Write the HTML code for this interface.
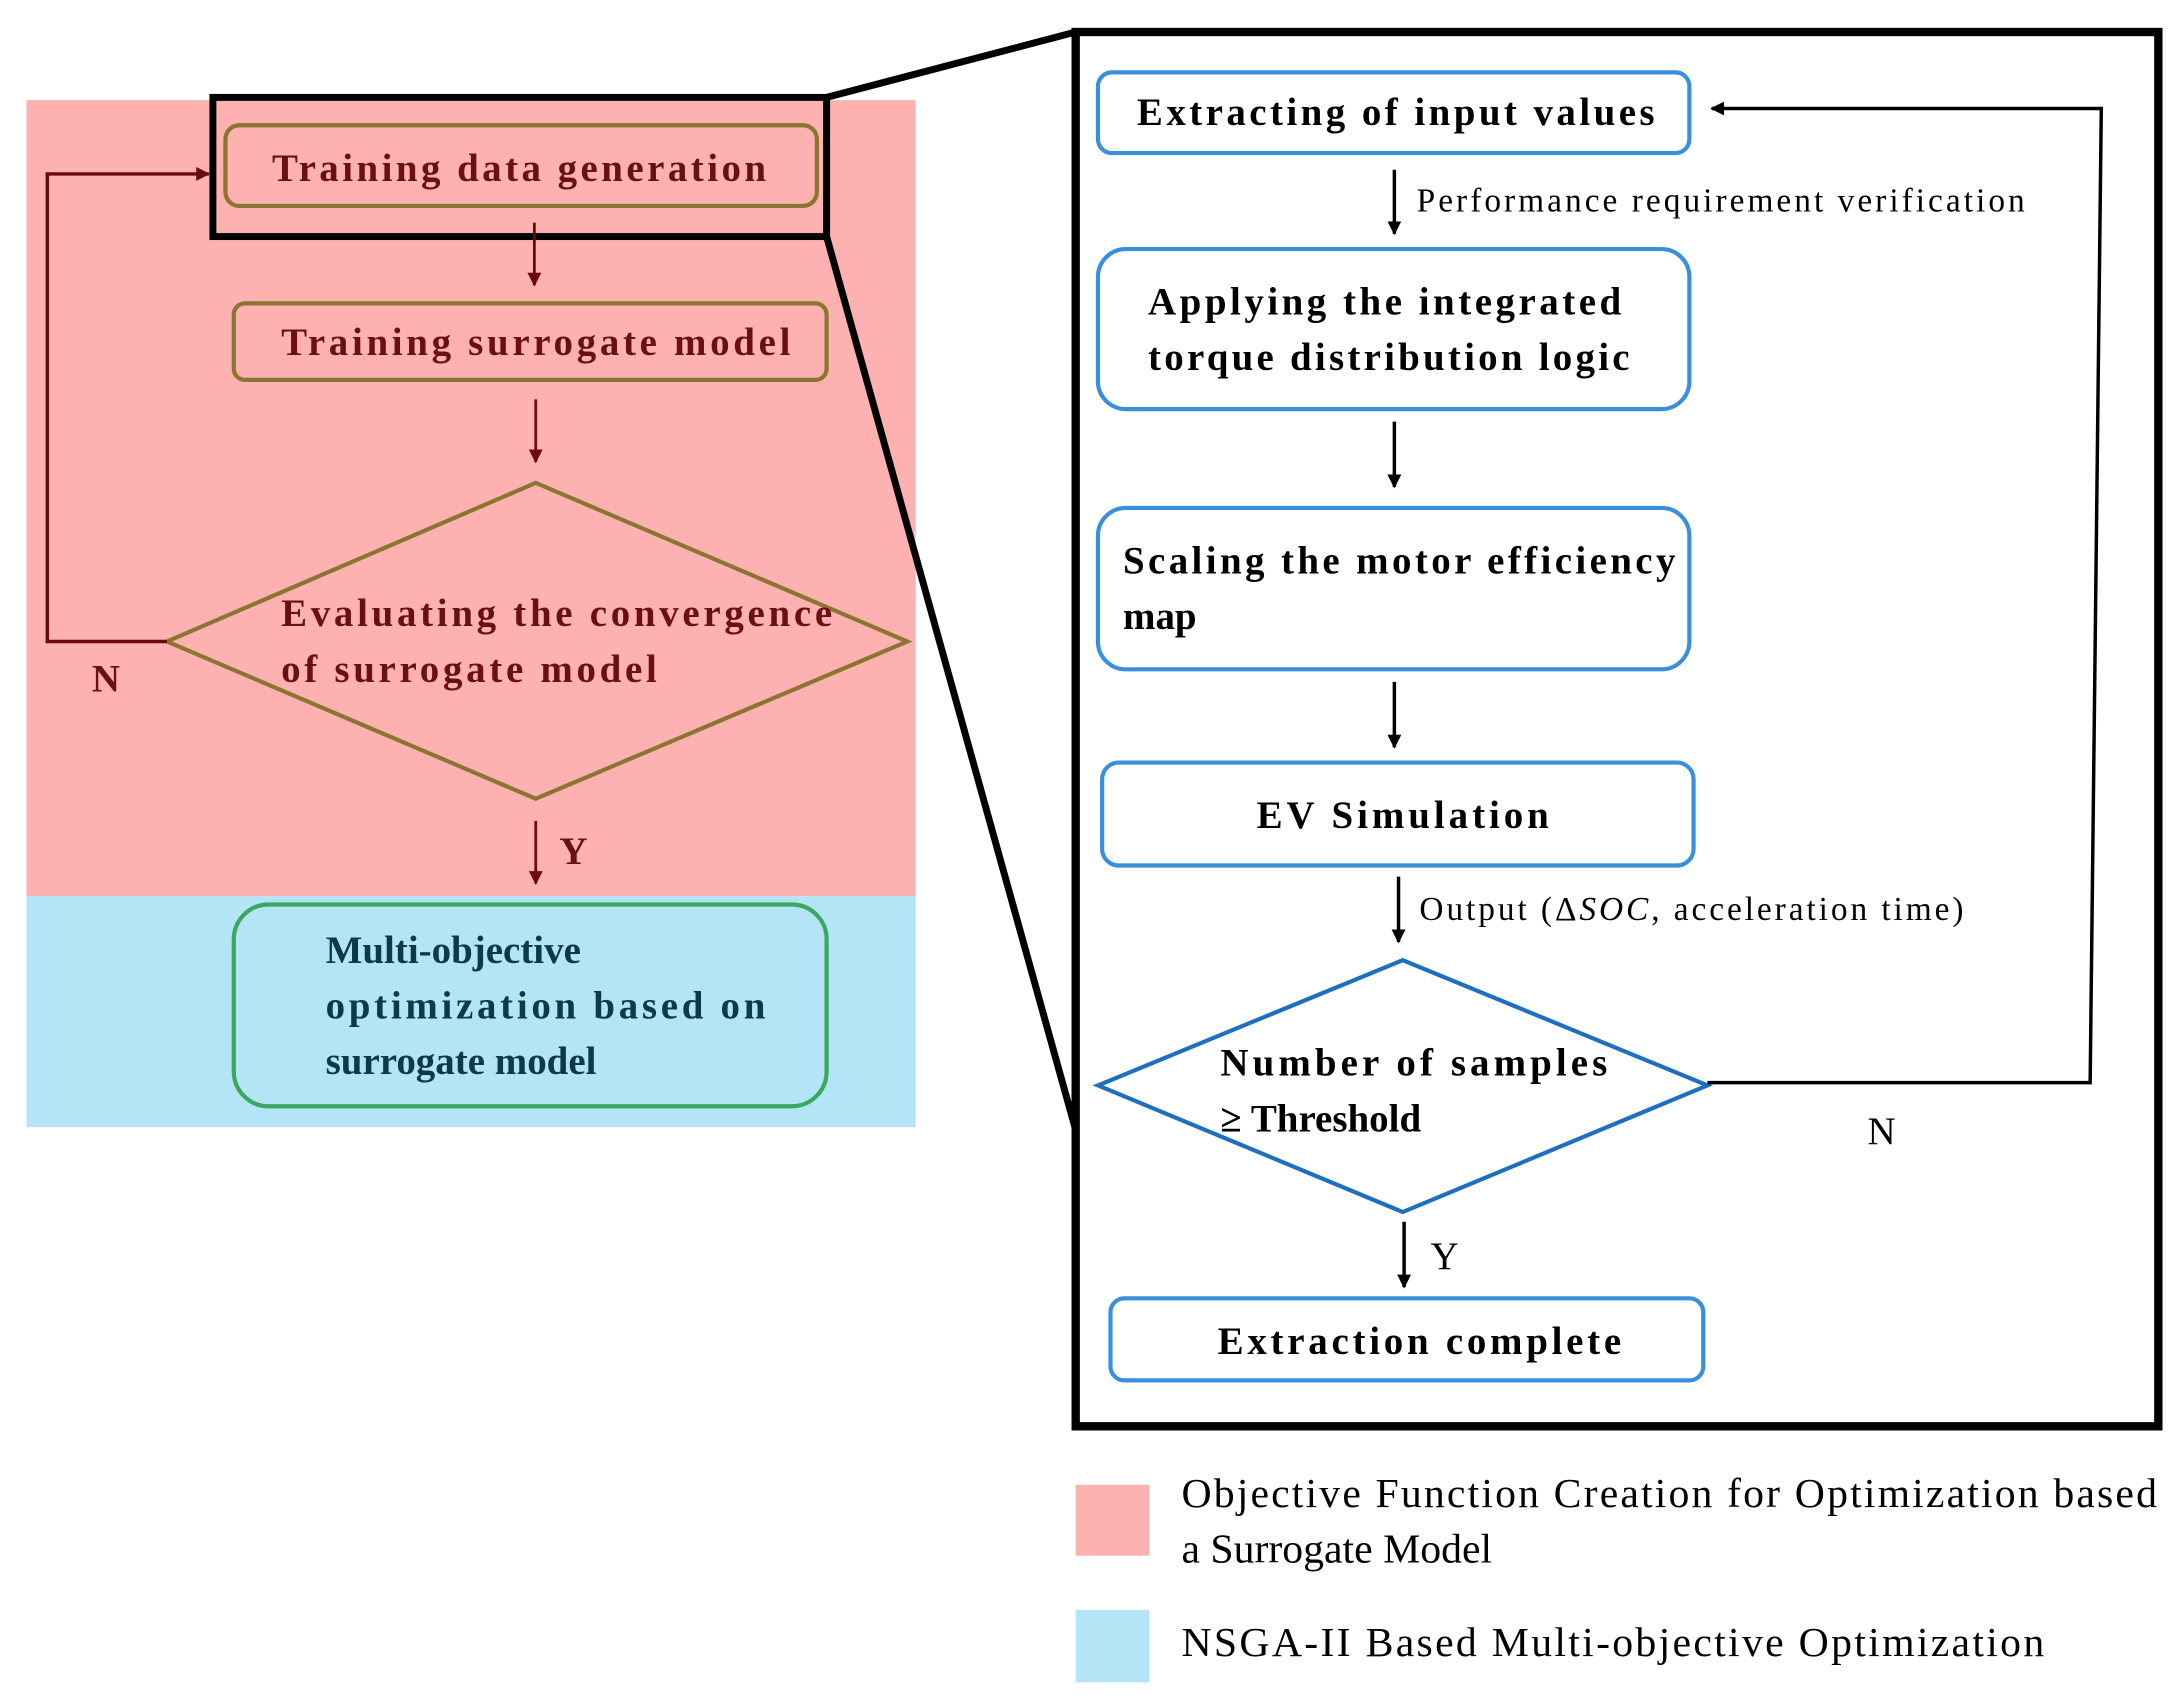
<!DOCTYPE html>
<html><head><meta charset="utf-8"><style>html,body{margin:0;padding:0;background:#fff}svg{display:block}</style></head>
<body>
<svg width="2182" height="1706" viewBox="0 0 1568 1226" preserveAspectRatio="none" xmlns="http://www.w3.org/2000/svg" font-family="Liberation Serif, serif">
<defs>
<marker id="ar" markerWidth="10" markerHeight="10" refX="9" refY="5" orient="auto" markerUnits="userSpaceOnUse"><path d="M0,0 L10,5 L0,10 z" fill="#6b0a0a"/></marker>
<marker id="ab" markerWidth="10" markerHeight="10" refX="9" refY="5" orient="auto" markerUnits="userSpaceOnUse"><path d="M0,0 L10,5 L0,10 z" fill="#000"/></marker>
</defs>
<rect x="19" y="72" width="639" height="572" fill="#fdb1b1"/>
<rect x="19" y="644" width="639" height="166" fill="#b3e5f7"/>
<!-- left flow -->
<rect x="162" y="90" width="425" height="58" rx="10" fill="none" stroke="#8b7530" stroke-width="3"/>
<text x="373" y="130" text-anchor="middle" font-weight="bold" font-size="28" fill="#6b1010" textLength="355">Training data generation</text>
<rect x="153" y="70" width="441" height="100" fill="none" stroke="#000" stroke-width="5"/>
<line x1="384" y1="160" x2="384" y2="205" stroke="#6b0a0a" stroke-width="2" marker-end="url(#ar)"/>
<rect x="168" y="218" width="426" height="55" rx="8" fill="none" stroke="#8b7530" stroke-width="3"/>
<text x="385" y="255" text-anchor="middle" font-weight="bold" font-size="28" fill="#6b1010" textLength="366">Training surrogate model</text>
<line x1="385" y1="287" x2="385" y2="332" stroke="#6b0a0a" stroke-width="2" marker-end="url(#ar)"/>
<polygon points="120,461 385,347 652,461 385,574" fill="none" stroke="#8b7530" stroke-width="3"/>
<text x="202" y="450" font-weight="bold" font-size="28" fill="#6b1010" textLength="396">Evaluating the convergence</text>
<text x="202" y="490" font-weight="bold" font-size="28" fill="#6b1010" textLength="270">of surrogate model</text>
<polyline points="120,461 34,461 34,125 150,125" fill="none" stroke="#6b0a0a" stroke-width="2.5" marker-end="url(#ar)"/>
<text x="66" y="497" font-weight="bold" font-size="28" fill="#6b1010">N</text>
<line x1="385" y1="590" x2="385" y2="635" stroke="#6b0a0a" stroke-width="2" marker-end="url(#ar)"/>
<text x="402" y="621" font-weight="bold" font-size="28" fill="#6b1010">Y</text>
<rect x="168" y="650" width="426" height="145" rx="25" fill="none" stroke="#3aa860" stroke-width="3"/>
<text font-weight="bold" font-size="28" fill="#0d3a4a"><tspan x="234" y="692">Multi-objective</tspan><tspan x="234" y="732" textLength="316">optimization based on</tspan><tspan x="234" y="772">surrogate model</tspan></text>
<!-- zoom lines -->
<line x1="594" y1="70" x2="773" y2="23" stroke="#000" stroke-width="5"/>
<line x1="594" y1="170" x2="773" y2="812" stroke="#000" stroke-width="5"/>
<rect x="773" y="23" width="778" height="1002" fill="none" stroke="#000" stroke-width="6"/>
<!-- right flow -->
<g fill="none" stroke="#3a8fdc" stroke-width="3">
<rect x="789" y="52" width="425" height="58" rx="10"/>
<rect x="789" y="179" width="425" height="115" rx="20"/>
<rect x="789" y="365" width="425" height="116" rx="20"/>
<rect x="792" y="548" width="425" height="74" rx="12"/>
<rect x="798" y="933" width="426" height="59" rx="10"/>
</g>
<polygon points="789,780 1008,690 1227,780 1008,871" fill="none" stroke="#1f6fc0" stroke-width="3"/>
<g font-weight="bold" font-size="28" fill="#000">
<text x="1003" y="90" text-anchor="middle" textLength="372">Extracting of input values</text>
<text x="825" y="226" textLength="340">Applying the integrated</text>
<text x="825" y="266" textLength="346">torque distribution logic</text>
<text x="807" y="412" textLength="397">Scaling the motor efficiency</text>
<text x="807" y="452">map</text>
<text x="1008" y="595" text-anchor="middle" textLength="210">EV Simulation</text>
<text x="877" y="773" textLength="278">Number of samples</text>
<text x="877" y="813">≥ Threshold</text>
<text x="1020" y="973" text-anchor="middle" textLength="290">Extraction complete</text>
</g>
<g stroke="#000" stroke-width="2.5" fill="none">
<line x1="1002" y1="122" x2="1002" y2="168" marker-end="url(#ab)"/>
<line x1="1002" y1="303" x2="1002" y2="350" marker-end="url(#ab)"/>
<line x1="1002" y1="490" x2="1002" y2="537" marker-end="url(#ab)"/>
<line x1="1005" y1="630" x2="1005" y2="677" marker-end="url(#ab)"/>
<line x1="1009" y1="878" x2="1009" y2="925" marker-end="url(#ab)"/>
<polyline points="1227,778 1502,778 1510,78 1230,78" marker-end="url(#ab)"/>
</g>
<g font-size="24" fill="#000">
<text x="1018" y="152" textLength="437">Performance requirement verification</text>
<text x="1020" y="661" textLength="391">Output (Δ<tspan font-style="italic">SOC</tspan>, acceleration time)</text>
</g>
<text x="1342" y="822" font-size="28">N</text>
<text x="1028" y="912" font-size="28">Y</text>
<!-- legend -->
<rect x="773" y="1067" width="53" height="51" fill="#fdb1b1"/>
<rect x="773" y="1157" width="53" height="52" fill="#b3e5f7"/>
<g font-size="30" fill="#000">
<text x="849" y="1083" textLength="701">Objective Function Creation for Optimization based</text>
<text x="849" y="1123">a Surrogate Model</text>
<text x="849" y="1190" textLength="620">NSGA-II Based Multi-objective Optimization</text>
</g>
</svg>
</body></html>
